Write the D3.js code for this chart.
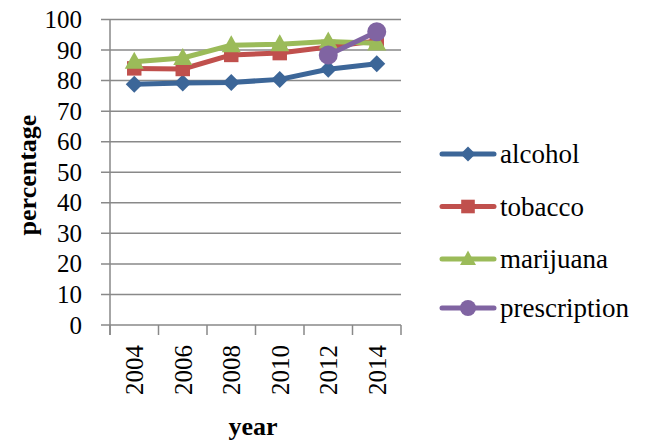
<!DOCTYPE html>
<html><head><meta charset="utf-8">
<script src="https://cdn.jsdelivr.net/npm/d3@7"></script>
<style>body{margin:0;background:#fff}svg{display:block}</style>
</head><body>
<svg id="c" width="657" height="441"></svg>
<script>
const years = ["2004","2006","2008","2010","2012","2014"];
const alcohol = [78.8, 79.2, 79.4, 80.4, 83.7, 85.5];
const tobacco = [84.0, 83.8, 88.4, 89.0, 91.0, 93.0];
const marijuana = [86.2, 87.4, 91.6, 91.9, 92.8, 92.2];
const prescription = [null, null, null, null, 88.4, 96.0];
const seriesNames = ["alcohol","tobacco","marijuana","prescription"];
const yTicks = [0,10,20,30,40,50,60,70,80,90,100];

const colors = ["#3C6698","#C0504D","#9BBB59","#8064A2"];
const shapes = ["diamond","square","triangle","circle"];
const seriesData = [alcohol, tobacco, marijuana, prescription];

const svg = d3.select("#c");
const font = "'Liberation Serif', 'Times New Roman', serif";
const L = 110, R = 401, T = 19.5, B = 325;

const x = d3.scaleBand().domain(years).range([L, R]);
const y = d3.scaleLinear().domain([0,100]).range([B, T]);

// gridlines
svg.append("g").selectAll("line").data(yTicks).join("line")
  .attr("x1", L - 9).attr("x2", R)
  .attr("y1", d => y(d)).attr("y2", d => y(d))
  .attr("stroke", "#898989").attr("stroke-width", 1.5);

// y axis line
svg.append("line").attr("x1", L).attr("x2", L).attr("y1", T).attr("y2", B + 10)
  .attr("stroke", "#898989").attr("stroke-width", 1.5);

// x axis ticks
const xt = years.map(d => x(d)).concat([R]);
svg.append("g").selectAll("line").data(xt).join("line")
  .attr("x1", d => d).attr("x2", d => d).attr("y1", B).attr("y2", B + 10)
  .attr("stroke", "#898989").attr("stroke-width", 1.5);

// y tick labels
svg.append("g").selectAll("text").data(yTicks).join("text")
  .attr("x", 82).attr("y", d => y(d)).attr("dy", "0.34em")
  .attr("text-anchor", "end").attr("font-family", font).attr("font-size", 25)
  .attr("fill", "#000").text(d => d);

// x tick labels rotated
svg.append("g").selectAll("text").data(years).join("text")
  .attr("transform", d => `translate(${x(d) + x.bandwidth()/2 + 9},345) rotate(-90)`)
  .attr("text-anchor", "end").attr("font-family", font).attr("font-size", 25)
  .attr("fill", "#000").text(d => d);

// axis titles
svg.append("text").attr("transform", "translate(36,175) rotate(-90)")
  .attr("text-anchor", "middle").attr("font-family", font).attr("font-size", 26)
  .attr("font-weight", "bold").text("percentage");
svg.append("text").attr("x", 253).attr("y", 435)
  .attr("text-anchor", "middle").attr("font-family", font).attr("font-size", 26)
  .attr("font-weight", "bold").text("year");

function marker(g, shape, cx, cy, color, s) {
  if (shape === "diamond") {
    g.append("path").attr("d", `M${cx},${cy - s}L${cx + s},${cy}L${cx},${cy + s}L${cx - s},${cy}Z`).attr("fill", color);
  } else if (shape === "square") {
    g.append("rect").attr("x", cx - s*0.85).attr("y", cy - s*0.85).attr("width", s*1.7).attr("height", s*1.7).attr("fill", color);
  } else if (shape === "triangle") {
    g.append("path").attr("d", `M${cx},${cy - s*1.05}L${cx + s},${cy + s*0.75}L${cx - s},${cy + s*0.75}Z`).attr("fill", color);
  } else {
    g.append("circle").attr("cx", cx).attr("cy", cy).attr("r", s).attr("fill", color);
  }
}

const line = d3.line().defined(d => d != null)
  .x((d, i) => x(years[i]) + x.bandwidth()/2).y(d => y(d));
const sizes = [8.5, 8.5, 9.5, 9.5];

seriesData.forEach((vals, k) => {
  const g = svg.append("g");
  g.append("path").datum(vals).attr("d", line).attr("fill", "none")
    .attr("stroke", colors[k]).attr("stroke-width", 5).attr("stroke-linejoin", "round");
  vals.forEach((v, i) => {
    if (v == null) return;
    marker(g, shapes[k], x(years[i]) + x.bandwidth()/2, y(v), colors[k], sizes[k]);
  });
});

// legend
const legY = [154, 206.5, 259, 308];
seriesNames.forEach((n, k) => {
  const g = svg.append("g");
  g.append("line").attr("x1", 442).attr("x2", 494).attr("y1", legY[k]).attr("y2", legY[k])
    .attr("stroke", colors[k]).attr("stroke-width", 5).attr("stroke-linecap", "round");
  marker(g, shapes[k], 468, legY[k], colors[k], k === 0 ? 7.5 : 8);
  g.append("text").attr("x", 500).attr("y", legY[k] + 9)
    .attr("font-family", font).attr("font-size", 27).attr("fill", "#000").text(n);
});
</script>
</body></html>
